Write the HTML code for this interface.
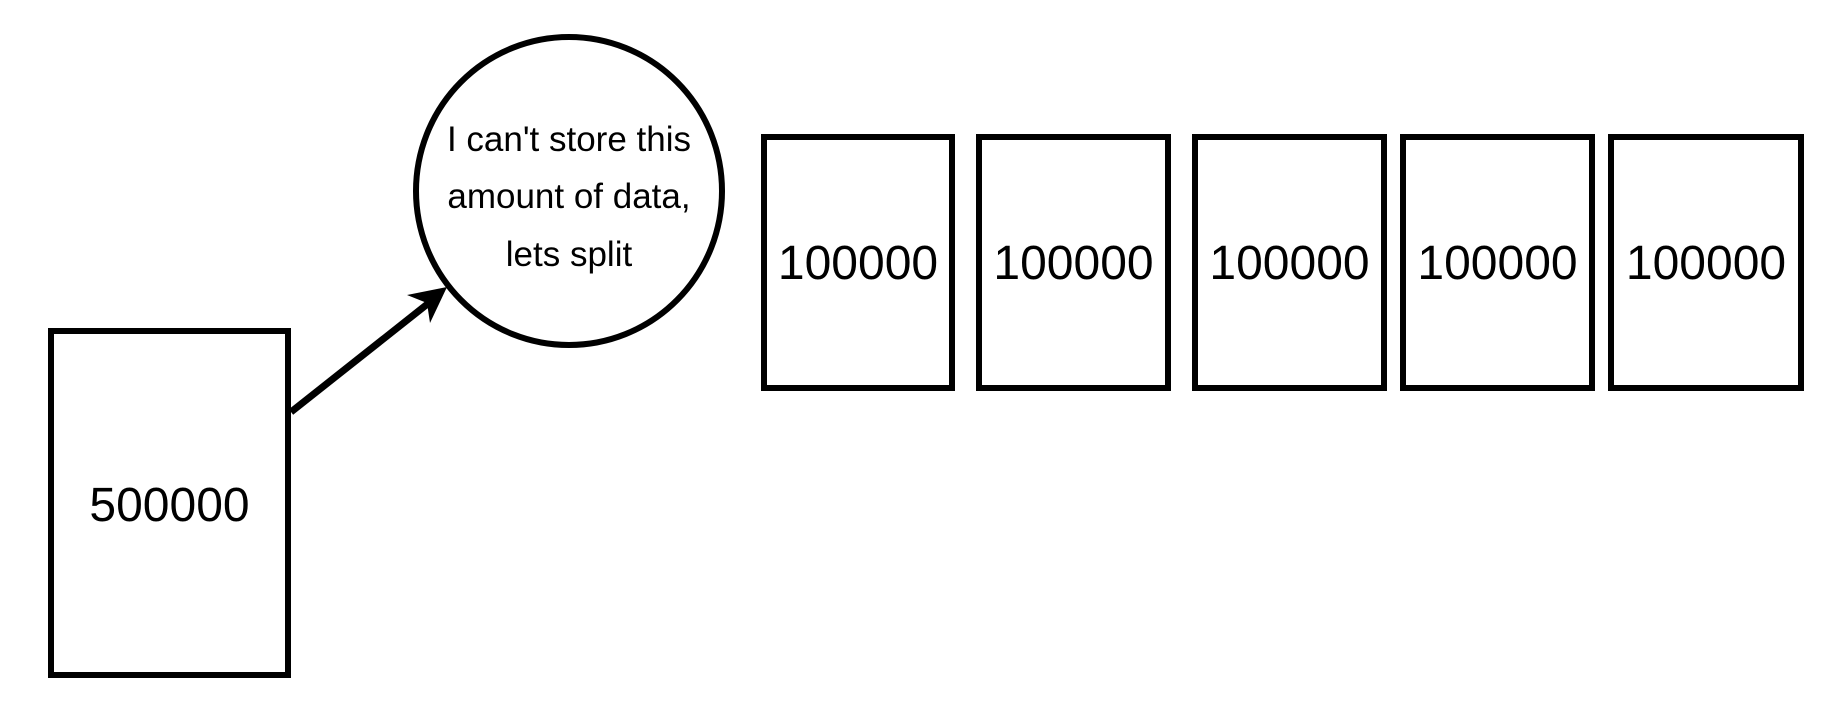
<!DOCTYPE html>
<html><head><meta charset="utf-8"><style>
html,body{margin:0;padding:0;background:#fff;}
svg{display:block;}
text{font-family:"Liberation Sans",Arial,sans-serif;fill:#000;}
</style></head><body>
<svg width="1846" height="708" viewBox="0 0 1846 708">
<rect x="51" y="331" width="237" height="344" fill="#fff" stroke="#000" stroke-width="6"/>
<text x="169.5" y="521" font-size="48" text-anchor="middle">500000</text>
<line x1="291" y1="412" x2="430" y2="302" stroke="#000" stroke-width="7"/>
<polygon points="447,287 407,295 427,303 430,323" fill="#000"/>
<ellipse cx="569" cy="191" rx="153" ry="154" fill="#fff" stroke="#000" stroke-width="6"/>
<text x="569" y="151" font-size="35" text-anchor="middle">I can't store this</text>
<text x="569" y="208" font-size="35" text-anchor="middle">amount of data,</text>
<text x="569" y="266" font-size="35" text-anchor="middle">lets split</text>
<g>
<rect x="764" y="137" width="188" height="251" fill="#fff" stroke="#000" stroke-width="6"/>
<text x="858" y="279" font-size="48" text-anchor="middle">100000</text>
<rect x="979" y="137" width="189" height="251" fill="#fff" stroke="#000" stroke-width="6"/>
<text x="1073.5" y="279" font-size="48" text-anchor="middle">100000</text>
<rect x="1195" y="137" width="189" height="251" fill="#fff" stroke="#000" stroke-width="6"/>
<text x="1289.5" y="279" font-size="48" text-anchor="middle">100000</text>
<rect x="1403" y="137" width="189" height="251" fill="#fff" stroke="#000" stroke-width="6"/>
<text x="1497.5" y="279" font-size="48" text-anchor="middle">100000</text>
<rect x="1611" y="137" width="190" height="251" fill="#fff" stroke="#000" stroke-width="6"/>
<text x="1706" y="279" font-size="48" text-anchor="middle">100000</text>
</g>
</svg>
</body></html>
